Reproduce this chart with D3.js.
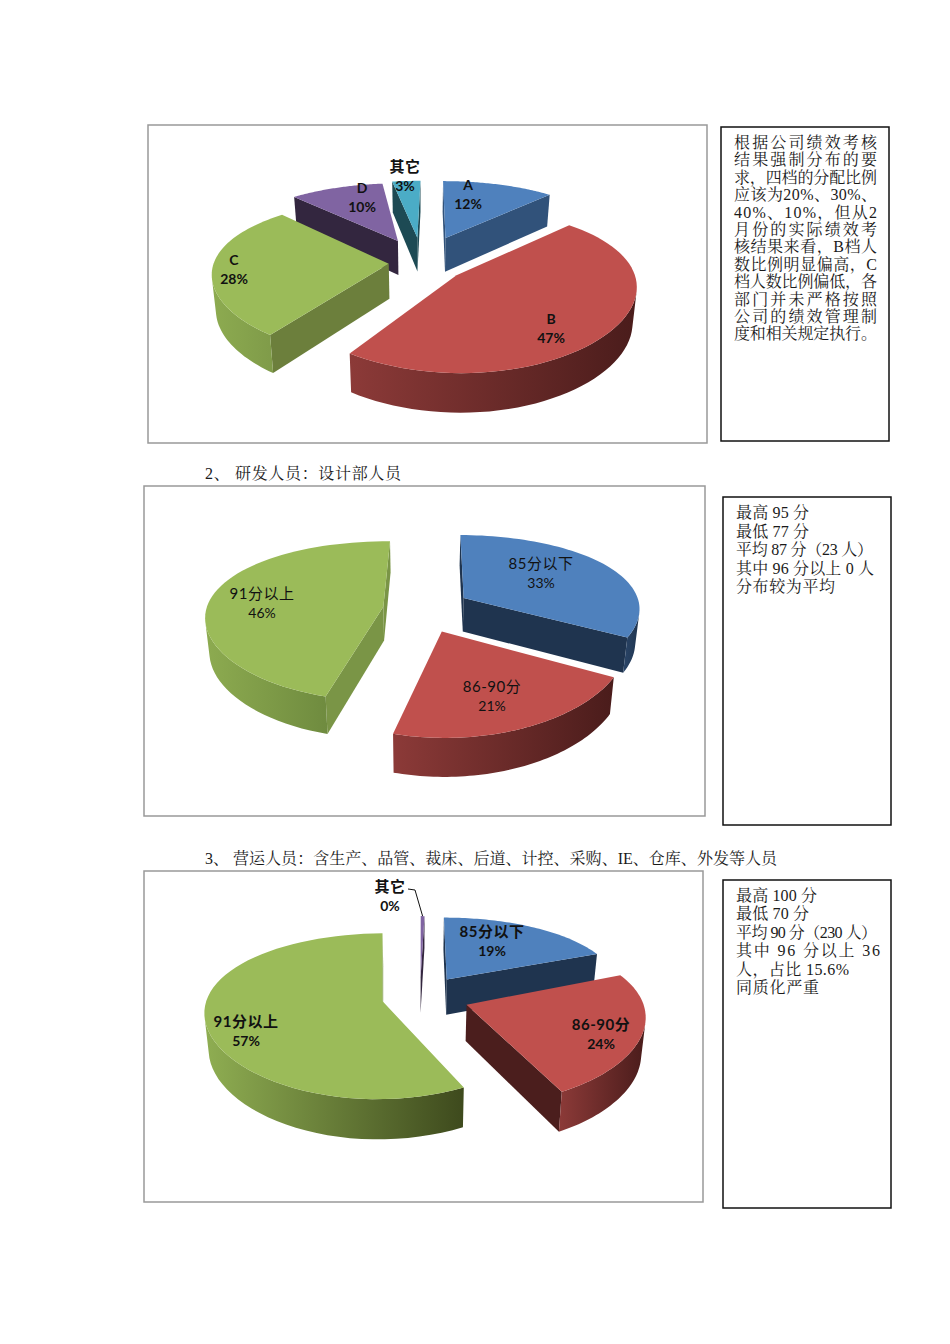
<!DOCTYPE html>
<html>
<head>
<meta charset="utf-8">
<script src="https://d3js.org/d3.v7.min.js"></script>
<style>
body { margin: 0; background: #fff; }
svg { display: block; }
.note { font-family: "Liberation Serif", "Noto Serif CJK SC", "Noto Sans CJK SC", serif; font-size: 16px; fill: #1a1a1a; }
.lab { font-family: Lato, "Noto Sans CJK SC", sans-serif; font-size: 14px; fill: #111; text-anchor: middle; }
</style>
</head>
<body>
<div id="my_dataviz"></div>
<script>
// chart values
const gradeNames = ["A", "B", "C", "D", "其它"];
const gradeValues = [12, 47, 28, 10, 3];
const designNames = ["85分以下", "86-90分", "91分以上"];
const designValues = [33, 21, 46];
const opsNames = ["85分以下", "86-90分", "91分以上", "其它"];
const opsValues = [19, 24, 57, 0.4];

// note and caption text
const gradeNote = ["根据公司绩效考核", "结果强制分布的要", "求，四档的分配比例", "应该为20%、30%、", "40%、10%，但从2", "月份的实际绩效考",
    "核结果来看，B档人", "数比例明显偏高，C", "档人数比例偏低，各", "部门并未严格按照", "公司的绩效管理制", "度和相关规定执行。"];
const designNote = ["最高 95 分", "最低 77 分", "平均 87 分（23 人）", "其中 96 分以上 0 人", "分布较为平均"];
const opsNote = ["最高 100 分", "最低 70 分", "平均 90 分（230 人）", "其中 96 分以上 36", "人，占比 15.6%", "同质化严重"];
const designCaption = "2、 研发人员：设计部人员";
const opsCaption = "3、 营运人员：含生产、品管、裁床、后道、计控、采购、IE、仓库、外发等人员";

// colours per slice: top, cut face, wall left, wall right
const blue = ["#4f81bd", "#1f344f", "#2a4568", "#1f344f"];
const red = ["#c0504d", "#4b1e1d", "#8c3a38", "#4a1c1b"];
const green = ["#9bbb59", "#7a9546", "#8dab50", "#6f8b3f"];
const purple = ["#8064a2", "#33263f", "#5a4672", "#33263f"];
const teal = ["#4bacc6", "#1d4a54", "#2b6a7a", "#1d4a54"];

// explode = pull out of each slice, turn = small rotation of each slice in degrees
const charts = [
    { names: gradeNames, values: gradeValues, colors: [
        ["#4f81bd", "#31527a", "#31527a", "#31527a"], red, ["#9bbb59", "#6c7f3c", "#8dab50", "#7f9b49"], purple, teal],
      explode: [.38, .25, .19, .34, .36], turn: [0, 1.5, 4, 4, 1], bold: true,
      frame: [148, 125, 707, 443], cx: 422, cy: 263, R: 175, tilt: .43, k: .18, kx: .12, depth: 35,
      labels: [[468, 190], [551, 324], [234, 265], [362, 193], [405, 172]] },
    { names: designNames, values: designValues, colors: [blue, red, green],
      explode: [.29, .3, .21], turn: [0.5, 0, 1], bold: false,
      frame: [144, 486, 705, 816], cx: 420, cy: 609, R: 177, tilt: .44, k: .18, kx: .12, depth: 34,
      labels: [[541, 569], [492, 692], [262, 599]] },
    { names: opsNames, values: opsValues, colors: [blue, red, ["#9bbb59", "#7a9546", "#8fae52", "#3e4a1d"], purple],
      explode: [.28, .28, .22, .26], turn: [0, -1, 0, 1.5], bold: true,
      frame: [144, 871, 703, 1202], cx: 420, cy: 997, R: 175, tilt: .45, k: .18, kx: .12, depth: 36,
      labels: [[492, 937], [601, 1030], [246, 1027], [390, 892]], leader: 3 }
];

const svg = d3.select("#my_dataviz").append("svg")
    .attr("width", 950)
    .attr("height", 1344);
const defs = svg.append("defs");
const line = d3.line();
const shrink = 0.02, kDepth = 0.1;

charts.forEach(function(c, ci) {
    svg.append("rect")
        .attr("x", c.frame[0]).attr("y", c.frame[1])
        .attr("width", c.frame[2] - c.frame[0]).attr("height", c.frame[3] - c.frame[1])
        .attr("fill", "#fff").attr("stroke", "#999").attr("stroke-width", 1.5);

    // disc coordinates to screen, nearer parts get bigger
    function top(u, v) {
        return [c.cx + c.R * u / (1 + c.kx * v), c.cy - c.R * c.tilt * v / (1 + c.k * v)];
    }
    function bottom(u, v) {
        const t = top(u, v);
        return [c.cx + (t[0] - c.cx) * (1 - shrink), t[1] + c.depth / (1 + kDepth * v)];
    }

    const arcs = d3.pie().sort(null)(c.values).map(function(d, i) {
        const turn = c.turn[i] * Math.PI / 180;
        const mid = (d.startAngle + d.endAngle) / 2 + turn;
        const ou = c.explode[i] * Math.sin(mid), ov = c.explode[i] * Math.cos(mid);
        return { i: i, a0: d.startAngle + turn, a1: d.endAngle + turn, ou: ou, ov: ov, apexY: top(ou, ov)[1] };
    }).sort((a, b) => a.apexY - b.apexY);

    arcs.forEach(function(s) {
        const col = c.colors[s.i];
        const steps = d3.range(61).map(j => s.a0 + (s.a1 - s.a0) * j / 60);
        const disc = steps.map(a => [s.ou + Math.sin(a), s.ov + Math.cos(a)]);
        const rimT = disc.map(d => top(d[0], d[1]));
        const rimB = disc.map(d => bottom(d[0], d[1]));
        const apexT = top(s.ou, s.ov), apexB = bottom(s.ou, s.ov);
        const g = svg.append("g");

        // cut faces
        const startFace = [apexT, rimT[0], rimB[0], apexB];
        const endFace = [rimT[60], apexT, apexB, rimB[60]];
        [startFace, endFace].forEach(function(f) {
            if (d3.polygonArea(f) > 0) {
                g.append("path").attr("d", line(f) + "Z").attr("fill", col[1]);
            }
        });

        // outer wall, only the segments that face the viewer
        const vis = d3.range(60).filter(j => d3.polygonArea([rimT[j], rimT[j + 1], rimB[j + 1], rimB[j]]) > 0);
        if (vis.length) {
            const id = "wall" + ci + "_" + s.i;
            const grad = defs.append("linearGradient").attr("id", id);
            grad.append("stop").attr("offset", "0%").attr("stop-color", col[2]);
            grad.append("stop").attr("offset", "100%").attr("stop-color", col[3]);
            const from = vis[0], to = vis[vis.length - 1] + 1;
            const wall = rimT.slice(from, to + 1).concat(rimB.slice(from, to + 1).reverse());
            g.append("path").attr("d", line(wall) + "Z").attr("fill", "url(#" + id + ")");
        }

        g.append("path").attr("d", line([apexT].concat(rimT)) + "Z").attr("fill", col[0]);

        s.rimMid = rimT[30];
    });

    c.labels.forEach(function(pos, i) {
        const t = svg.append("text").attr("class", "lab")
            .attr("font-weight", c.bold ? 700 : 400)
            .attr("x", pos[0]).attr("y", pos[1]);
        const wide = /[^\x00-\x7f]/.test(c.names[i]);
        t.append("tspan").attr("x", pos[0]).text(c.names[i])
            .style("font-size", wide ? "15px" : null)
            .style("letter-spacing", wide ? "0.5px" : null);
        t.append("tspan").attr("x", pos[0]).attr("dy", 19)
            .text(Math.round(c.values[i]) + "%");
    });

    if (c.leader !== undefined) {
        const rim = arcs.find(s => s.i === c.leader).rimMid;
        svg.append("path")
            .attr("d", line([[c.labels[c.leader][0] + 18, c.labels[c.leader][1] - 3], [c.labels[c.leader][0] + 25, c.labels[c.leader][1] - 2], rim]))
            .attr("fill", "none").attr("stroke", "#111").attr("stroke-width", 1);
    }
});

// captions
function textLine(str, x, y, w) {
    const t = svg.append("text").attr("class", "note").attr("x", x).attr("y", y).text(str);
    if (w) t.attr("textLength", w).attr("lengthAdjust", "spacing");
}
textLine(designCaption, 205, 479, 196);
textLine(opsCaption, 205, 864, 572);

// note boxes
function noteBox(box, lines, x, y0, step, widths) {
    svg.append("rect")
        .attr("x", box[0]).attr("y", box[1])
        .attr("width", box[2] - box[0]).attr("height", box[3] - box[1])
        .attr("fill", "#fff").attr("stroke", "#111").attr("stroke-width", 1.5);
    lines.forEach((str, i) => textLine(str, x, y0 + i * step, widths[i]));
}
noteBox([721, 127, 889, 441], gradeNote, 734, 148, 17.4, gradeNote.map(() => 143));
noteBox([723, 497, 891, 825], designNote, 736, 518, 18.5, [73, 73, 137, 138, 99]);
noteBox([723, 880, 891, 1208], opsNote, 736, 901, 18.4, [81, 73, 141, 144, 113, 83]);
</script>
</body>
</html>
